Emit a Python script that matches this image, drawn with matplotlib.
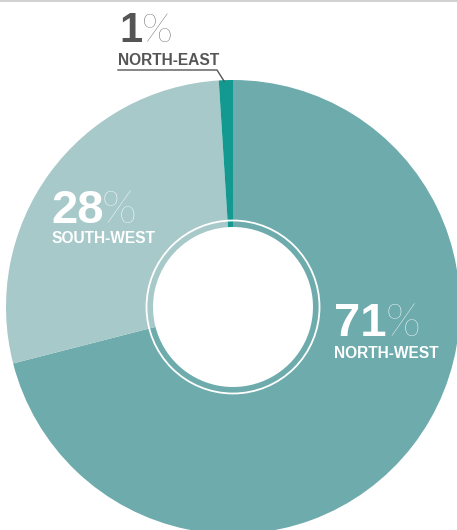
import matplotlib
matplotlib.use("Agg")
import matplotlib.pyplot as plt
from matplotlib.patches import Circle

regions = ["NORTH-WEST", "SOUTH-WEST", "NORTH-EAST"]
shares = [71, 28, 1]
colors = ["#6DABAC", "#A8C9C9", "#13998F"]

W, H = 457, 530
fig = plt.figure(figsize=(W / 100, H / 100), dpi=100)
ax = fig.add_axes([0, 0, 1, 1])

cx, cy = 233, H - 307
R = 227
r_in = 80
ax.pie(shares, colors=colors, startangle=90, counterclock=False,
       center=(cx, cy), radius=R,
       wedgeprops=dict(width=R - r_in, linewidth=0))
ax.add_patch(Circle((cx, cy), 86.5, fill=False, edgecolor="white", linewidth=1.3))
ax.set_xlim(0, W)
ax.set_ylim(0, H)
ax.set_aspect("auto")
ax.set_axis_off()

# top rule
ax.plot([0, W], [H - 0.8, H - 0.8], color="#c8c8c8", linewidth=1.2, clip_on=False)

num_font = "Liberation Sans"
pct_font = ["Lato", "DejaVu Sans"]

def label(x_num, y_base, num, pct_x, name_x, name, name_y, color, size):
    ax.text(x_num, H - y_base, num, fontsize=size, fontweight="bold",
            family=num_font, color=color, ha="left", va="baseline")
    ax.text(pct_x, H - y_base, "%", fontsize=size * 0.97, fontweight="light",
            family=pct_font, color=color, ha="left", va="baseline")
    ax.text(name_x, H - name_y, name, fontsize=11.2, fontweight="bold",
            family=num_font, color=color, ha="left", va="baseline")

# North-east (1%)
label(119, 42, f"{shares[2]}", 142, 118, regions[2], 65, "#555555", 30)
ax.plot([118, 217, 224], [H - 70, H - 70, H - 81], color="#555555", linewidth=1.0)

# South-west (28%)
label(51, 223, f"{shares[1]}", 102, 52, regions[1], 243, "white", 34)

# North-west (71%)
label(334, 336, f"{shares[0]}", 386, 334, regions[0], 358, "white", 34)

fig.savefig("out.png", dpi=100)
